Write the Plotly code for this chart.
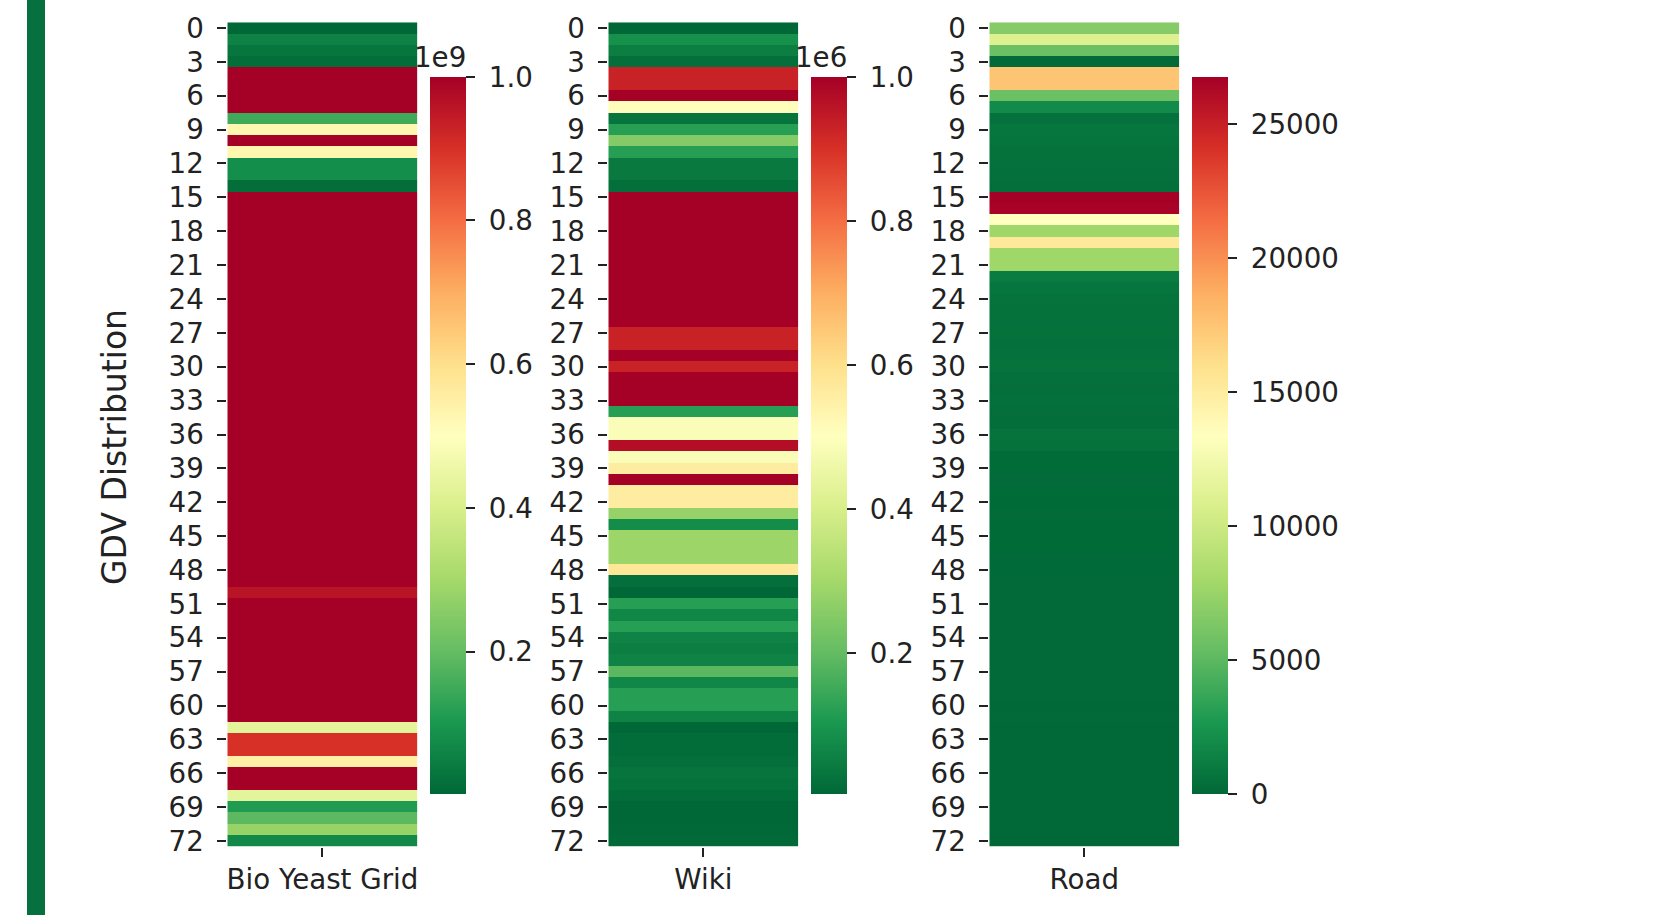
import plotly.graph_objects as go

W, H = 1673, 915

categories = ["Bio Yeast Grid", "Wiki", "Road"]
rows = list(range(73))
y_tick_vals = list(range(0, 73, 3))

# Bio Yeast Grid values, in units of 1e9
bio_e9 = [0.002, 0.055, 0.03, 0.015, 1.0, 1.0, 1.0, 1.0, 0.15, 0.53,
          1.0, 0.53, 0.08, 0.08, 0.015] + [1.0] * 35 + [0.96] + [1.0] * 11 + \
         [0.43, 0.9, 0.9, 0.55, 1.0, 1.0, 0.43, 0.11, 0.19, 0.28, 0.07]

# Wiki values, in units of 1e6
wiki_e6 = [0.005, 0.09, 0.05, 0.02, 0.93, 0.93, 1.0, 0.51, 0.03, 0.12,
           0.25, 0.12, 0.04, 0.04, 0.02] + [1.0] * 12 + \
          [0.93, 0.93, 1.0, 0.93, 1.0, 1.0, 1.0] + \
          [0.12, 0.49, 0.49, 0.97, 0.49, 0.56, 1.0, 0.56, 0.56, 0.28, 0.08,
           0.29, 0.29, 0.29, 0.58] + \
          [0.02, 0.005, 0.12, 0.07, 0.12, 0.06, 0.05, 0.06, 0.19, 0.07, 0.12,
           0.12, 0.06, 0.005, 0.015, 0.015, 0.02, 0.03, 0.025, 0.015, 0.005,
           0.005, 0.008, 0.01]

# Road values
road = [6700, 11000, 5600, 130, 17560, 17560, 5600, 1900, 500, 700,
        650, 550, 500, 450, 400, 26770, 26600, 13400, 7800, 15300,
        7800, 7800, 1100, 700, 600, 550, 500, 550, 450, 500,
        600, 450, 400, 450, 400, 350, 600, 550, 250, 200,
        180, 200, 150, 160, 150, 140, 150, 130, 140, 120,
        130, 120, 110, 120, 100, 110, 100, 90, 100, 90,
        80, 90, 80, 70, 80, 60, 70, 60, 50, 40,
        40, 30, 0]

bio_ticks = [0.2e9, 0.4e9, 0.6e9, 0.8e9, 1.0e9]
bio_tick_text = ["0.2", "0.4", "0.6", "0.8", "1.0"]
wiki_ticks = [0.2e6, 0.4e6, 0.6e6, 0.8e6, 1.0e6]
wiki_tick_text = ["0.2", "0.4", "0.6", "0.8", "1.0"]
road_ticks = [0, 5000, 10000, 15000, 20000, 25000]
road_tick_text = ["0", "5000", "10000", "15000", "20000", "25000"]

rdylgn_r = [
    [0.0, "#006837"], [0.1, "#1a9850"], [0.2, "#66bd63"], [0.3, "#a6d96a"],
    [0.4, "#d9ef8b"], [0.5, "#ffffbf"], [0.6, "#fee08b"], [0.7, "#fdae61"],
    [0.8, "#f46d43"], [0.9, "#d73027"], [1.0, "#a50026"],
]

FONT = "DejaVu Sans"
TXT = "#222222"
TICK_FS = 27.7
NB = "\u00a0"

panels = [
    (categories[0], [v * 1e9 for v in bio_e9], 227.3, 417.5, 430.0, bio_ticks, bio_tick_text),
    (categories[1], [v * 1e6 for v in wiki_e6], 608.3, 798.3, 811.0, wiki_ticks, wiki_tick_text),
    (categories[2], road, 989.3, 1179.3, 1192.0, road_ticks, road_tick_text),
]

y_top, y_bot = 22.3, 846.7
cb_top, cb_bot = 76.8, 793.8

fig = go.Figure()
layout = dict(
    width=W, height=H,
    margin=dict(l=0, r=0, t=0, b=0),
    paper_bgcolor="white", plot_bgcolor="white",
    font=dict(family=FONT, color=TXT, size=TICK_FS),
    showlegend=False,
)

for i, (name, vals, x0, x1, cbx, tv, tt) in enumerate(panels):
    suffix = "" if i == 0 else str(i + 1)
    fig.add_trace(go.Heatmap(
        x=[name], y=rows, z=[[v] for v in vals],
        colorscale=rdylgn_r,
        xaxis="x" + suffix, yaxis="y" + suffix,
        hoverinfo="skip",
        colorbar=dict(
            x=cbx / W, xanchor="left", xpad=0,
            y=1 - cb_bot / H, yanchor="bottom", ypad=0,
            len=(cb_bot - cb_top) / H, lenmode="fraction",
            thickness=35.7, thicknessmode="pixels",
            outlinewidth=0, borderwidth=0,
            tickmode="array", tickvals=tv, ticktext=[NB + t for t in tt],
            ticks="outside", ticklen=9, tickwidth=2, tickcolor=TXT,
            tickfont=dict(family=FONT, size=TICK_FS, color=TXT),
        ),
    ))
    layout["xaxis" + suffix] = dict(
        domain=[x0 / W, x1 / W], anchor="y" + suffix,
        showgrid=False, zeroline=False, showline=False,
        ticks="outside", ticklen=9, tickwidth=2, tickcolor=TXT,
        ticklabelstandoff=-1,
        tickfont=dict(family=FONT, size=TICK_FS, color=TXT),
        automargin=False, fixedrange=True,
    )
    layout["yaxis" + suffix] = dict(
        domain=[1 - y_bot / H, 1 - y_top / H], anchor="x" + suffix,
        range=[72.5, -0.5],
        tickmode="array", tickvals=y_tick_vals,
        showgrid=False, zeroline=False, showline=False,
        ticks="outside", ticklen=9, tickwidth=2, tickcolor=TXT,
        ticklabelstandoff=8,
        tickfont=dict(family=FONT, size=TICK_FS, color=TXT),
        automargin=False, fixedrange=True,
    )

layout["shapes"] = [dict(
    type="rect", xref="paper", yref="paper",
    x0=27 / W, x1=45 / W, y0=0, y1=1,
    fillcolor="#07703f", line=dict(width=0), layer="below",
)]
layout["annotations"] = [
    dict(text="1e9", x=412 / W, y=1 - 57 / H, xref="paper", yref="paper",
         xanchor="left", yanchor="middle", showarrow=False,
         font=dict(family=FONT, size=TICK_FS, color=TXT)),
    dict(text="1e6", x=793 / W, y=1 - 57 / H, xref="paper", yref="paper",
         xanchor="left", yanchor="middle", showarrow=False,
         font=dict(family=FONT, size=TICK_FS, color=TXT)),
    dict(text="GDV Distribution", x=115 / W, y=1 - 447 / H, xref="paper", yref="paper",
         xanchor="center", yanchor="middle", textangle=-90, showarrow=False,
         font=dict(family=FONT, size=33, color=TXT)),
]

fig.update_layout(**layout)
fig.write_html("out.html", config={"displayModeBar": False},
               post_script="document.body.style.margin='0px';")
